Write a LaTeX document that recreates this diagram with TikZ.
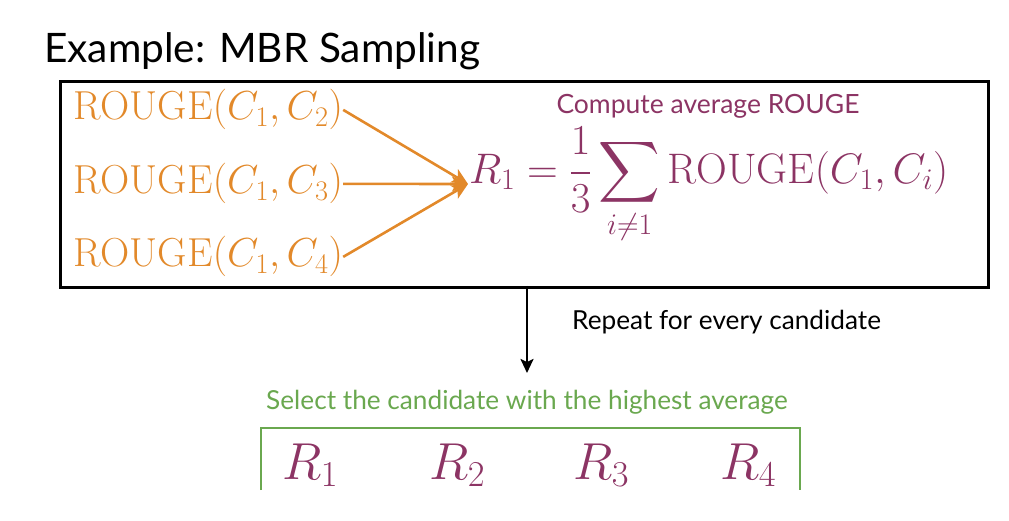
\RequirePackage{fix-cm}
\documentclass[tikz,border=0pt]{standalone}
\DeclareFontShape{OMX}{cmex}{m}{n}{<->cmex10}{}
\usepackage{fontspec}
\setsansfont{Lato}
\usetikzlibrary{arrows.meta}
\definecolor{rorange}{RGB}{226,137,42}
\definecolor{rplum}{RGB}{140,52,100}
\definecolor{rgreen}{RGB}{106,168,79}
\tikzset{
  rougetxt/.style={anchor=base west, inner sep=0pt, text=rorange, font=\fontsize{40.5}{48}\selectfont},
  orangearrow/.style={draw=rorange, line width=2.6pt, -{Stealth[length=16pt,width=15pt,inset=4pt]}},
  rval/.style={anchor=base, inner sep=0pt, text=rplum, font=\fontsize{52}{62}\selectfont},
  sanslabel/.style={inner sep=0pt, font=\sffamily\fontsize{26.2}{31}\selectfont}
}
\begin{document}
\begin{tikzpicture}[x=1pt,y=-1pt]
\useasboundingbox (0,0) rectangle (1009,521);
% title
\node[anchor=base west, inner sep=0pt, font=\sffamily\fontsize{40.6}{48}\selectfont] (title) at (44,63) {Example: MBR Sampling};
% main box
\node[draw=black, line width=2.8pt, minimum width=928pt, minimum height=206pt, anchor=north west, inner sep=0pt] (box) at (59,80) {};
% rouge terms
\node[rougetxt] (r2) at (73,120) {$\mathrm{ROUGE}(C_1, C_2)$};
\node[rougetxt] (r3) at (73,194) {$\mathrm{ROUGE}(C_1, C_3)$};
\node[rougetxt] (r4) at (73,267) {$\mathrm{ROUGE}(C_1, C_4)$};
% formula
\node[anchor=west, inner sep=0pt, text=rplum, font=\fontsize{42.7}{50}\selectfont] (form) at (469,186)
  {$\displaystyle R_1 = \frac{1}{3}\sum_{i\neq 1}\mathrm{ROUGE}(C_1, C_i)$};
\coordinate (tip) at (468,184);
\draw[orangearrow] (r2.east) -- (tip);
\draw[orangearrow] (r3.east) -- (tip);
\draw[orangearrow] (r4.east) -- (tip);
\node[sanslabel, text=rplum, anchor=center, font=\sffamily\fontsize{26.5}{32}\selectfont] (comp) at (708,106) {Compute average ROUGE};
% down arrow
\coordinate (dstart) at (527,286);
\coordinate (dend) at (527,373);
\draw[black, line width=2.4pt, -{Stealth[length=14pt,width=13pt,inset=3pt]}] (dstart) -- (dend);
\node[sanslabel, anchor=west] (rep) at (572,322) {Repeat for every candidate};
% green part
\node[sanslabel, text=rgreen, anchor=center] (sel) at (527,402) {Select the candidate with the highest average};
\coordinate (gbl) at (261,490);
\coordinate (gtl) at (261,428);
\coordinate (gtr) at (800,428);
\coordinate (gbr) at (800,490);
\draw[rgreen, line width=2.8pt] (gbl) -- (gtl) -- (gtr) -- (gbr);
\node[rval] (v1) at (310,479) {$R_1$};
\node[rval] (v2) at (457,479) {$R_2$};
\node[rval] (v3) at (601,479) {$R_3$};
\node[rval] (v4) at (748,479) {$R_4$};
\end{tikzpicture}
\end{document}
